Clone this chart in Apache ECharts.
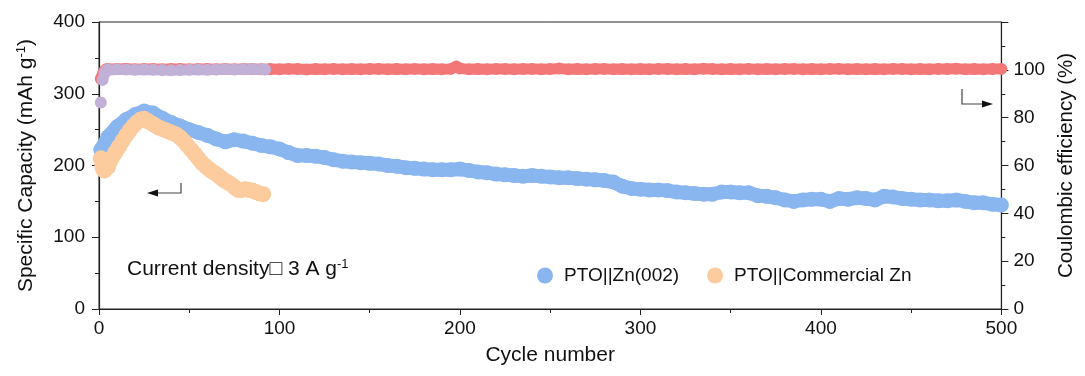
<!DOCTYPE html>
<html>
<head>
<meta charset="utf-8">
<script src="https://cdn.jsdelivr.net/npm/echarts@6/dist/echarts.min.js"></script>
<style>
  html, body { margin: 0; padding: 0; background: #fff; }
  #chart { width: 1085px; height: 376px; }
</style>
</head>
<body>
<div id="chart"></div>
<script>
// capacity, PTO||Zn(002)
const znCycles = [1, 5, 10, 15, 20, 25, 30, 35, 40, 45, 50, 55, 60, 65, 70, 75, 80, 85, 90, 95,
  100, 105, 110, 115, 120, 125, 130, 135, 140, 145, 150, 155, 160, 165, 170, 175, 180, 185, 190, 195,
  200, 205, 210, 215, 220, 225, 230, 235, 240, 245, 250, 255, 260, 265, 270, 275, 280, 285, 290, 295,
  300, 305, 310, 315, 320, 325, 330, 335, 340, 345, 350, 355, 360, 365, 370, 375, 380, 385, 390, 395,
  400, 405, 410, 415, 420, 425, 430, 435, 440, 445, 450, 455, 460, 465, 470, 475, 480, 485, 490, 495, 500]
const znCapacity = [222, 240, 254, 264, 271, 276, 273, 266, 260, 255, 250, 246, 242, 237, 233, 236, 234, 231, 228, 226,
  223, 218, 214, 214, 213, 211, 208, 206, 205, 204, 203, 202, 200, 199, 197, 196, 195, 194, 194, 194,
  195, 193, 191, 190, 188, 187, 186, 185, 186, 185, 184, 183, 183, 182, 181, 180, 179, 177, 171, 168,
  167, 166, 166, 165, 163, 162, 161, 160, 160, 163, 163, 162, 162, 158, 157, 155, 152, 150, 152, 153,
  153, 150, 154, 153, 155, 154, 152, 157, 156, 154, 153, 152, 152, 151, 151, 152, 150, 148, 148, 146, 145]

// capacity, PTO||Commercial Zn
const comCycles = [1, 2, 3, 5, 7, 9, 11, 13, 15, 17, 19, 21, 23, 25, 27, 29, 31, 33, 35, 37, 39, 41, 43, 45,
  47, 49, 51, 53, 55, 57, 59, 61, 63, 65, 67, 69, 71, 73, 75, 77, 79, 81, 83, 85, 87, 89, 91]
const comCapacity = [210, 196, 193, 198, 210, 218, 226, 234, 242, 249, 255, 260, 264, 265, 262, 259, 256, 253, 251, 249, 247, 245, 243, 239,
  234, 228, 222, 216, 210, 204, 199, 195, 191, 188, 184, 180, 177, 174, 170, 166, 166, 167, 166, 165, 163, 161, 160]

// coulombic efficiency, PTO||Zn(002)
const znCeCycles = [1, 2, 3, 4, 5, 10, 15, 20, 25, 30, 35, 40, 45, 50, 55, 60, 65, 70, 75, 80, 85, 90, 95,
  100, 105, 110, 115, 120, 125, 130, 135, 140, 145, 150, 155, 160, 165, 170, 175, 180, 185, 190, 195, 198,
  200, 205, 210, 215, 220, 225, 230, 235, 240, 245, 250, 255, 260, 265, 270, 275, 280, 285, 290, 295,
  300, 305, 310, 315, 320, 325, 330, 335, 340, 345, 350, 355, 360, 365, 370, 375, 380, 385, 390, 395,
  400, 405, 410, 415, 420, 425, 430, 435, 440, 445, 450, 455, 460, 465, 470, 475, 480, 485, 490, 495, 500]
const znCe = [96.3, 98.0, 99.6, 100.2, 100.4, 100.3, 100.5, 100.2, 100.4, 100.3, 100.2, 100.4, 100.3, 100.2, 100.3, 100.4, 100.2, 100.3, 100.2, 100.3, 100.4, 100.2, 100.3,
  100.2, 100.4, 100.3, 100.1, 100.3, 100.2, 100.4, 100.2, 100.3, 100.2, 100.3, 100.4, 100.2, 100.3, 100.2, 100.4, 100.2, 100.3, 100.2, 100.4, 101.4,
  100.6, 100.2, 100.3, 100.2, 100.4, 100.3, 100.2, 100.3, 100.4, 100.2, 100.3, 100.6, 100.2, 100.3, 100.2, 100.3, 100.4, 100.2, 100.3, 100.2,
  100.3, 100.2, 100.4, 100.3, 100.2, 100.3, 100.2, 100.5, 100.3, 100.2, 100.3, 100.2, 100.4, 100.2, 100.3, 100.2, 100.3, 100.4, 100.2, 100.3,
  100.2, 100.3, 100.4, 100.2, 100.3, 100.2, 100.3, 100.2, 100.4, 100.3, 100.2, 100.3, 100.2, 100.4, 100.3, 100.5, 100.2, 100.3, 100.2, 100.3, 100.4]

// coulombic efficiency, PTO||Commercial Zn
const comCeCycles = [1, 2, 3, 4, 5, 10, 15, 20, 25, 30, 35, 40, 45, 50, 55, 60, 65, 70, 75, 80, 85, 90, 92]
const comCe = [86.3, 95.8, 98.6, 99.7, 100.1, 100.2, 100.1, 100.0, 100.1, 100.0, 99.9, 99.8, 99.9, 100.0, 100.1, 100.0, 100.1, 100.2, 100.1, 100.2, 100.3, 100.2, 100.1]

const pairs = (xs, ys) => xs.map((x, i) => [x, ys[i]])

const FONT = 'Arial, "Liberation Sans", sans-serif'
const AXIS_COLOR = '#222'

const bandSeries = (name, data, color, yAxisIndex, size) => ({
  name: name,
  type: 'line',
  yAxisIndex: yAxisIndex,
  data: data,
  symbol: 'circle',
  symbolSize: size,
  showSymbol: true,
  connectNulls: false,
  lineStyle: { color: color, width: size - 1, cap: 'round', join: 'round' },
  itemStyle: { color: color },
  silent: true,
  animation: false
})

// first commercial CE point sits apart from the rest
const comCeData = pairs(comCeCycles, comCe)
comCeData.splice(1, 0, [1.5, null])

const chart = echarts.init(document.getElementById('chart'))

const option = {
  backgroundColor: '#fff',
  animation: false,
  textStyle: { fontFamily: FONT },
  grid: {
    left: 99, right: 80, top: 22, bottom: 67,
    show: true, borderColor: AXIS_COLOR, borderWidth: 1, backgroundColor: 'transparent'
  },
  legend: {
    data: ['PTO||Zn(002)', 'PTO||Commercial Zn'],
    left: 532, top: 261,
    icon: 'circle', itemWidth: 16, itemHeight: 16, itemGap: 28,
    textStyle: { fontSize: 19, color: '#111', fontFamily: FONT, padding: [0, 0, 0, 6] }
  },
  xAxis: {
    type: 'value', min: 0, max: 500, interval: 100,
    name: 'Cycle number', nameLocation: 'middle', nameGap: 36,
    nameTextStyle: { fontSize: 21, color: '#111', fontFamily: FONT },
    axisLine: { show: true, lineStyle: { color: AXIS_COLOR, width: 1.2 } },
    axisTick: { show: true, length: 6, lineStyle: { color: AXIS_COLOR } },
    minorTick: { show: true, splitNumber: 2, length: 4, lineStyle: { color: AXIS_COLOR } },
    axisLabel: { fontSize: 19, color: '#111', margin: 10, fontFamily: FONT },
    splitLine: { show: false }
  },
  yAxis: [
    {
      type: 'value', min: 0, max: 400, interval: 100,
      name: '{n|Specific Capacity (mAh g}{s|-1}{n|)}', nameLocation: 'middle', nameGap: 61, nameRotate: 90,
      nameTextStyle: {
        color: '#111', fontFamily: FONT,
        rich: {
          n: { fontSize: 21, fontFamily: FONT, color: '#111' },
          s: { fontSize: 13, fontFamily: FONT, color: '#111', verticalAlign: 'top', padding: [0, 0, 10, 0] }
        }
      },
      axisLine: { show: true, lineStyle: { color: AXIS_COLOR, width: 1.2 } },
      axisTick: { show: true, length: 7, lineStyle: { color: AXIS_COLOR } },
      minorTick: { show: true, splitNumber: 2, length: 4, lineStyle: { color: AXIS_COLOR } },
      axisLabel: { fontSize: 19, color: '#111', margin: 14, fontFamily: FONT },
      splitLine: { show: false }
    },
    {
      type: 'value', min: 0, max: 120, interval: 20, position: 'right',
      name: 'Coulombic efficiency (%)', nameLocation: 'middle', nameGap: 49, nameRotate: 90,
      nameTextStyle: { fontSize: 20.5, color: '#111', fontFamily: FONT },
      axisLine: { show: true, lineStyle: { color: AXIS_COLOR, width: 1.2 } },
      axisTick: { show: true, length: 7, lineStyle: { color: AXIS_COLOR } },
      minorTick: { show: true, splitNumber: 2, length: 4, lineStyle: { color: AXIS_COLOR } },
      axisLabel: { fontSize: 19, color: '#111', margin: 12, fontFamily: FONT, showMaxLabel: false },
      splitLine: { show: false }
    }
  ],
  graphic: [
    {
      type: 'text', left: 127, top: 258,
      style: {
        text: '{n|Current density□ 3 A g}{s|-1}',
        rich: {
          n: { fontSize: 21, fontFamily: FONT, fill: '#111' },
          s: { fontSize: 13, fontFamily: FONT, fill: '#111', verticalAlign: 'top', padding: [0, 0, 9, 0] }
        }
      }
    },
    // capacity arrow (points to left axis)
    { type: 'polyline', shape: { points: [[181, 183], [181, 193], [156, 193]] }, style: { stroke: '#444', lineWidth: 1.2, fill: null } },
    { type: 'polygon', shape: { points: [[147, 193], [158, 189.5], [158, 196.5]] }, style: { fill: '#111' } },
    // CE arrow (points to right axis)
    { type: 'polyline', shape: { points: [[962, 89], [962, 104], [984, 104]] }, style: { stroke: '#444', lineWidth: 1.2, fill: null } },
    { type: 'polygon', shape: { points: [[993, 104], [982, 100.5], [982, 107.5]] }, style: { fill: '#111' } }
  ],
  series: [
    bandSeries('PTO||Zn(002)', pairs(znCycles, znCapacity), '#8ab6f0', 0, 15),
    bandSeries('PTO||Commercial Zn', pairs(comCycles, comCapacity), '#fccc9f', 0, 16),
    bandSeries('CE Zn(002)', pairs(znCeCycles, znCe), '#f47777', 1, 12),
    bandSeries('CE Commercial Zn', comCeData, '#c2b1d7', 1, 12)
  ]
}

chart.setOption(option)
</script>
</body>
</html>
